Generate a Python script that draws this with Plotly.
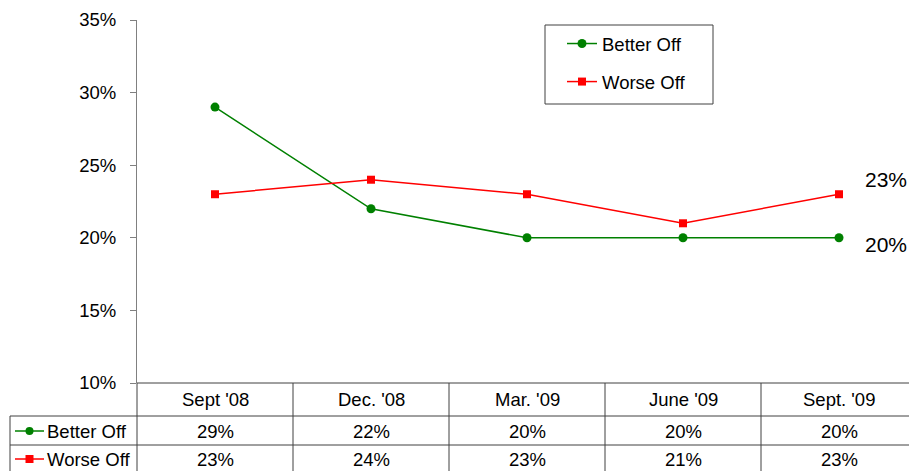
import plotly.graph_objects as go

categories = ["Sept '08", "Dec. '08", "Mar. '09", "June '09", "Sept. '09"]
better_off = [29, 22, 20, 20, 20]
worse_off = [23, 24, 23, 21, 23]
y_ticks = [10, 15, 20, 25, 30, 35]

# page body has an 8px margin: figure sized so that page pixels match 917x471
OFF = 8
W, H = 917 - OFF, 471 - OFF
GREEN = "#008000"
RED = "#FF0000"
FONT = "Liberation Sans, Arial, sans-serif"
FS = 18.5

def px(x):
    return (x - OFF) / W

def py(y):
    return 1 - (y - OFF) / H

fig = go.Figure()
xs = list(range(len(categories)))
fig.add_trace(go.Scatter(x=xs, y=better_off, name="Better Off", mode="lines+markers",
                         line=dict(color=GREEN, width=1.5),
                         marker=dict(symbol="circle", size=9, color=GREEN),
                         legendgroup="a"))
fig.add_trace(go.Scatter(x=xs, y=worse_off, name="Worse Off", mode="lines+markers",
                         line=dict(color=RED, width=1.5),
                         marker=dict(symbol="square", size=8, color=RED),
                         legendgroup="b"))

shapes = []
annotations = []
LC = "#404040"
# legend frame
shapes.append(dict(type="rect", xref="paper", yref="paper", x0=px(545), x1=px(713), y0=py(104), y1=py(25),
                   line=dict(color=LC, width=1), fillcolor="white", layer="below"))
# table horizontal lines
shapes.append(dict(type="line", xref="paper", yref="paper", x0=px(137), x1=1, y0=py(383), y1=py(383), line=dict(color=LC, width=1)))
for yy in [416, 445]:
    shapes.append(dict(type="line", xref="paper", yref="paper", x0=px(10), x1=1, y0=py(yy), y1=py(yy), line=dict(color=LC, width=1)))
# vertical lines
shapes.append(dict(type="line", xref="paper", yref="paper", x0=px(10), x1=px(10), y0=py(416), y1=0, line=dict(color=LC, width=1)))
shapes.append(dict(type="line", xref="paper", yref="paper", x0=px(137), x1=px(137), y0=py(383), y1=0, line=dict(color=LC, width=1)))
for i in range(len(categories) - 1):
    shapes.append(dict(type="line", xref="x", yref="paper", x0=i + 0.5, x1=i + 0.5, y0=py(383), y1=0, line=dict(color=LC, width=1)))

# header and cells
for i, c in enumerate(categories):
    annotations.append(dict(x=i, y=py(399), xref="x", yref="paper", text=c, showarrow=False,
                            font=dict(size=FS, color="#000"), xanchor="center", yanchor="middle"))
    annotations.append(dict(x=i, y=py(431), xref="x", yref="paper", text=f"{better_off[i]}%", showarrow=False,
                            font=dict(size=FS, color="#000"), xanchor="center", yanchor="middle"))
    annotations.append(dict(x=i, y=py(459), xref="x", yref="paper", text=f"{worse_off[i]}%", showarrow=False,
                            font=dict(size=FS, color="#000"), xanchor="center", yanchor="middle"))

# row labels with legend keys
for yy, name, col, sym in [(431, "Better Off", GREEN, "circle"), (459, "Worse Off", RED, "square")]:
    shapes.append(dict(type="line", xref="paper", yref="paper", x0=px(15), x1=px(44), y0=py(yy), y1=py(yy), line=dict(color=col, width=1.5)))
    if sym == "circle":
        shapes.append(dict(type="circle", xref="paper", yref="paper", x0=px(25.5), x1=px(33.5), y0=py(yy + 4), y1=py(yy - 4), fillcolor=col, line=dict(color=col, width=0)))
    else:
        shapes.append(dict(type="rect", xref="paper", yref="paper", x0=px(25.5), x1=px(33.5), y0=py(yy + 4), y1=py(yy - 4), fillcolor=col, line=dict(color=col, width=0)))
    annotations.append(dict(x=px(45), y=py(yy), xref="paper", yref="paper", text=name, showarrow=False,
                            font=dict(size=FS, color="#000"), xanchor="left", yanchor="middle"))

# end labels
annotations.append(dict(x=len(categories) - 1, y=worse_off[-1], xref="x", yref="y", text=f"{worse_off[-1]}%",
                        showarrow=False, xshift=24, yshift=15, xanchor="left", yanchor="middle",
                        font=dict(size=21, color="#000")))
annotations.append(dict(x=len(categories) - 1, y=better_off[-1], xref="x", yref="y", text=f"{better_off[-1]}%",
                        showarrow=False, xshift=24, yshift=-7, xanchor="left", yanchor="middle",
                        font=dict(size=21, color="#000")))

fig.update_layout(
    width=W, height=H,
    margin=dict(l=0, r=0, t=0, b=0, autoexpand=False),
    paper_bgcolor="white", plot_bgcolor="white",
    font=dict(family=FONT, size=FS, color="#000"),
    showlegend=True,
    legend=dict(x=px(545), y=py(25), xanchor="left", yanchor="top",
                borderwidth=0, bgcolor="rgba(0,0,0,0)",
                font=dict(size=FS, color="#000"), tracegroupgap=11,
                traceorder="grouped", itemwidth=30, indentation=17),
    xaxis=dict(domain=[px(137), 1], range=[-0.5, len(categories) - 0.5], automargin=False,
               showticklabels=False, showgrid=False, zeroline=False, showline=False, ticks=""),
    yaxis=dict(domain=[py(383), py(20)], range=[10, 35], tickvals=y_ticks,
               ticktext=[f"{v}%" for v in y_ticks], automargin=False,
               showgrid=False, zeroline=False, showline=True,
               linecolor="#808080", linewidth=1, ticks="outside", ticklen=6, tickcolor="#808080",
               ticklabelstandoff=10, tickfont=dict(size=FS, color="#000")),
    shapes=shapes, annotations=annotations,
)

fig.write_html("out.html")
